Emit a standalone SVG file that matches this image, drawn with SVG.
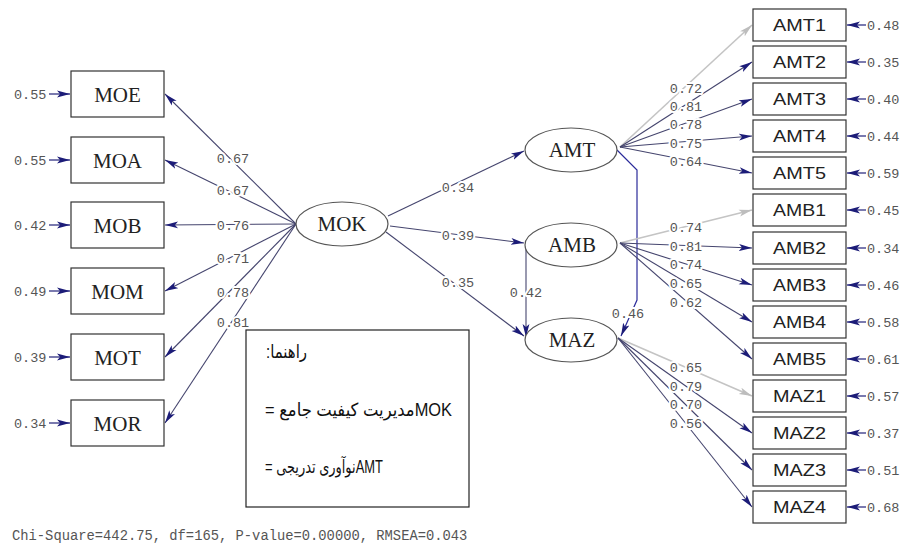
<svg xmlns="http://www.w3.org/2000/svg" width="909" height="546" viewBox="0 0 909 546">
<style>
.box{fill:#fff;stroke:#333;stroke-width:1.2}
.ell{fill:#fff;stroke:#555;stroke-width:1.2}
.ser{font-family:"Liberation Serif","Times New Roman",serif;font-size:21px;fill:#222;text-anchor:middle}
.san{font-family:"Liberation Sans",Arial,sans-serif;font-size:17px;fill:#222;text-anchor:middle}
.num{font-family:"Liberation Mono","Courier New",monospace;font-size:13.5px;fill:#555}
.lab{text-anchor:middle;paint-order:stroke;stroke:#fff;stroke-width:4px;stroke-linejoin:round}
.e{fill:none;stroke:#45456e;stroke-width:1.1;marker-end:url(#ah)}
.g{fill:none;stroke:#c4c4c4;stroke-width:1.6;marker-end:url(#ahg)}
.b{fill:none;stroke:#2b2b9a;stroke-width:1.2}
.err{fill:none;stroke:#22227a;stroke-width:1.2;marker-end:url(#ah)}
.leg{font-family:"Liberation Sans","DejaVu Sans",sans-serif;font-size:18px;fill:#111;direction:rtl;unicode-bidi:embed}
</style>
<defs>
<marker id="ah" markerUnits="userSpaceOnUse" markerWidth="14" markerHeight="8" refX="13" refY="4" orient="auto" viewBox="0 0 14 8">
<path d="M0,0.6 L13,4 L0,7.4 L3,4 z" fill="#1c1c78"/>
</marker>
<marker id="ahg" markerUnits="userSpaceOnUse" markerWidth="14" markerHeight="8" refX="13" refY="4" orient="auto" viewBox="0 0 14 8">
<path d="M0,0.6 L13,4 L0,7.4 L3,4 z" fill="#bdbdbd"/>
</marker>
</defs>
<rect width="909" height="546" fill="#fff"/>

<g id="connectors">
<path class="e" d="M296,224 L165,94"/>
<path class="e" d="M296,224 L165,160"/>
<path class="e" d="M296,224 L165,225"/>
<path class="e" d="M296,224 L165,291"/>
<path class="e" d="M296,224 L165,357"/>
<path class="e" d="M296,224 L165,423"/>
<path class="err" d="M49,94 L70,94"/>
<path class="err" d="M49,160 L70,160"/>
<path class="err" d="M49,225 L70,225"/>
<path class="err" d="M49,291 L70,291"/>
<path class="err" d="M49,357 L70,357"/>
<path class="err" d="M49,423 L70,423"/>
<path class="e" d="M388,216 L524,151"/>
<path class="e" d="M390,226 L524,243"/>
<path class="e" d="M386,232 L524,336"/>
<path class="e" d="M526,246 L526,337"/>
<path class="b" d="M617,150 L637,170 L637,300 L621,336" marker-end="url(#ah)"/>
<path class="g" d="M620,147 L752,25"/>
<path class="e" d="M620,147 L752,62"/>
<path class="e" d="M620,147 L752,99"/>
<path class="e" d="M620,147 L752,136"/>
<path class="e" d="M620,147 L752,173"/>
<path class="g" d="M620,243 L752,210"/>
<path class="e" d="M620,243 L752,248"/>
<path class="e" d="M620,243 L752,285"/>
<path class="e" d="M620,243 L752,322"/>
<path class="e" d="M620,243 L752,359"/>
<path class="g" d="M618,338 L752,396"/>
<path class="e" d="M618,338 L752,433"/>
<path class="e" d="M618,338 L752,470"/>
<path class="e" d="M618,338 L752,507"/>
<path class="err" d="M866,25 L847,25"/>
<path class="err" d="M866,62 L847,62"/>
<path class="err" d="M866,99 L847,99"/>
<path class="err" d="M866,136 L847,136"/>
<path class="err" d="M866,173 L847,173"/>
<path class="err" d="M866,210 L847,210"/>
<path class="err" d="M866,248 L847,248"/>
<path class="err" d="M866,285 L847,285"/>
<path class="err" d="M866,322 L847,322"/>
<path class="err" d="M866,359 L847,359"/>
<path class="err" d="M866,396 L847,396"/>
<path class="err" d="M866,433 L847,433"/>
<path class="err" d="M866,470 L847,470"/>
<path class="err" d="M866,507 L847,507"/>
<g class="num lab">
<text x="233" y="163">0.67</text>
<text x="233" y="195">0.67</text>
<text x="233" y="230">0.76</text>
<text x="233" y="263">0.71</text>
<text x="233" y="297">0.78</text>
<text x="233" y="327">0.81</text>
<text x="458" y="192">0.34</text>
<text x="458" y="240">0.39</text>
<text x="458" y="287">0.35</text>
<text x="526" y="297">0.42</text>
<text x="628" y="318">0.46</text>
<text x="686" y="93">0.72</text>
<text x="686" y="111">0.81</text>
<text x="686" y="129">0.78</text>
<text x="686" y="148">0.75</text>
<text x="686" y="166">0.64</text>
<text x="686" y="232">0.74</text>
<text x="686" y="251">0.81</text>
<text x="686" y="269">0.74</text>
<text x="686" y="288">0.65</text>
<text x="686" y="307">0.62</text>
<text x="686" y="372">0.65</text>
<text x="686" y="391">0.79</text>
<text x="686" y="409">0.70</text>
<text x="686" y="428">0.56</text>
</g>
</g>

<g class="num">
<text x="14" y="99">0.55</text>
<text x="14" y="165">0.55</text>
<text x="14" y="230">0.42</text>
<text x="14" y="296">0.49</text>
<text x="14" y="362">0.39</text>
<text x="14" y="428">0.34</text>
<text x="867" y="30">0.48</text>
<text x="867" y="67">0.35</text>
<text x="867" y="104">0.40</text>
<text x="867" y="141">0.44</text>
<text x="867" y="178">0.59</text>
<text x="867" y="215">0.45</text>
<text x="867" y="253">0.34</text>
<text x="867" y="290">0.46</text>
<text x="867" y="327">0.58</text>
<text x="867" y="364">0.61</text>
<text x="867" y="401">0.57</text>
<text x="867" y="438">0.37</text>
<text x="867" y="475">0.51</text>
<text x="867" y="512">0.68</text>
</g>

<g id="MOE"><rect class="box" x="71" y="71" width="93" height="46"/><text class="ser" x="117.5" y="101.5">MOE</text></g>
<g id="MOA"><rect class="box" x="71" y="137" width="93" height="46"/><text class="ser" x="117.5" y="167.5">MOA</text></g>
<g id="MOB"><rect class="box" x="71" y="202" width="93" height="46"/><text class="ser" x="117.5" y="232.5">MOB</text></g>
<g id="MOM"><rect class="box" x="71" y="268" width="93" height="46"/><text class="ser" x="117.5" y="298.5">MOM</text></g>
<g id="MOT"><rect class="box" x="71" y="334" width="93" height="46"/><text class="ser" x="117.5" y="364.5">MOT</text></g>
<g id="MOR"><rect class="box" x="71" y="400" width="93" height="46"/><text class="ser" x="117.5" y="430.5">MOR</text></g>

<g id="MOK"><ellipse class="ell" cx="342" cy="224" rx="46" ry="22"/><text class="ser" x="342" y="231">MOK</text></g>
<g id="AMT"><ellipse class="ell" cx="571" cy="150" rx="46" ry="22"/><text class="ser" x="572" y="157">AMT</text></g>
<g id="AMB"><ellipse class="ell" cx="571" cy="245" rx="46" ry="22"/><text class="ser" x="572" y="252">AMB</text></g>
<g id="MAZ"><ellipse class="ell" cx="571" cy="340" rx="46" ry="22"/><text class="ser" x="572" y="347">MAZ</text></g>

<g id="AMT1"><rect class="box" x="753" y="9" width="93" height="32"/><text class="san" x="799.5" y="31" textLength="53" lengthAdjust="spacingAndGlyphs">AMT1</text></g>
<g id="AMT2"><rect class="box" x="753" y="46" width="93" height="32"/><text class="san" x="799.5" y="68" textLength="53" lengthAdjust="spacingAndGlyphs">AMT2</text></g>
<g id="AMT3"><rect class="box" x="753" y="83" width="93" height="32"/><text class="san" x="799.5" y="105" textLength="53" lengthAdjust="spacingAndGlyphs">AMT3</text></g>
<g id="AMT4"><rect class="box" x="753" y="120" width="93" height="32"/><text class="san" x="799.5" y="142" textLength="53" lengthAdjust="spacingAndGlyphs">AMT4</text></g>
<g id="AMT5"><rect class="box" x="753" y="157" width="93" height="32"/><text class="san" x="799.5" y="179" textLength="53" lengthAdjust="spacingAndGlyphs">AMT5</text></g>
<g id="AMB1"><rect class="box" x="753" y="194" width="93" height="32"/><text class="san" x="799.5" y="216" textLength="53" lengthAdjust="spacingAndGlyphs">AMB1</text></g>
<g id="AMB2"><rect class="box" x="753" y="232" width="93" height="32"/><text class="san" x="799.5" y="254" textLength="53" lengthAdjust="spacingAndGlyphs">AMB2</text></g>
<g id="AMB3"><rect class="box" x="753" y="269" width="93" height="32"/><text class="san" x="799.5" y="291" textLength="53" lengthAdjust="spacingAndGlyphs">AMB3</text></g>
<g id="AMB4"><rect class="box" x="753" y="306" width="93" height="32"/><text class="san" x="799.5" y="328" textLength="53" lengthAdjust="spacingAndGlyphs">AMB4</text></g>
<g id="AMB5"><rect class="box" x="753" y="343" width="93" height="32"/><text class="san" x="799.5" y="365" textLength="53" lengthAdjust="spacingAndGlyphs">AMB5</text></g>
<g id="MAZ1"><rect class="box" x="753" y="380" width="93" height="32"/><text class="san" x="799.5" y="402" textLength="53" lengthAdjust="spacingAndGlyphs">MAZ1</text></g>
<g id="MAZ2"><rect class="box" x="753" y="417" width="93" height="32"/><text class="san" x="799.5" y="439" textLength="53" lengthAdjust="spacingAndGlyphs">MAZ2</text></g>
<g id="MAZ3"><rect class="box" x="753" y="454" width="93" height="32"/><text class="san" x="799.5" y="476" textLength="53" lengthAdjust="spacingAndGlyphs">MAZ3</text></g>
<g id="MAZ4"><rect class="box" x="753" y="491" width="93" height="32"/><text class="san" x="799.5" y="513" textLength="53" lengthAdjust="spacingAndGlyphs">MAZ4</text></g>

<g id="legend">
<rect x="246" y="330" width="223" height="177" fill="#fff" stroke="#222" stroke-width="1.2"/>
<text class="leg" x="307" y="358" text-anchor="start" textLength="41" lengthAdjust="spacingAndGlyphs">راهنما:</text>
<text class="leg" x="452" y="416" text-anchor="start" textLength="187" lengthAdjust="spacingAndGlyphs">MOKمدیریت کیفیت جامع =</text>
<text class="leg" x="383" y="473" text-anchor="start" textLength="118" lengthAdjust="spacingAndGlyphs">AMTنوآوری تدریجی =</text>
</g>

<text class="num" x="12" y="540" style="font-size:13.8px">Chi-Square=442.75, df=165, P-value=0.00000, RMSEA=0.043</text>
</svg>
